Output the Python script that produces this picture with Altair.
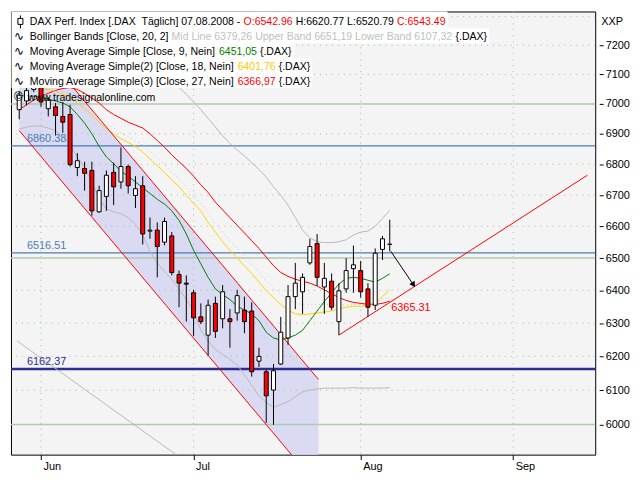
import altair as alt
import pandas as pd

# ---------------- data ----------------
dates = ["2008-05-28", "2008-05-29", "2008-05-30",
         "2008-06-02", "2008-06-03", "2008-06-04", "2008-06-05", "2008-06-06", "2008-06-09", "2008-06-10",
         "2008-06-11", "2008-06-12", "2008-06-13", "2008-06-16", "2008-06-17", "2008-06-18", "2008-06-19",
         "2008-06-20", "2008-06-23", "2008-06-24", "2008-06-25", "2008-06-26", "2008-06-27", "2008-06-30",
         "2008-07-01", "2008-07-02", "2008-07-03", "2008-07-04", "2008-07-07", "2008-07-08", "2008-07-09",
         "2008-07-10", "2008-07-11", "2008-07-14", "2008-07-15", "2008-07-16", "2008-07-17", "2008-07-18",
         "2008-07-21", "2008-07-22", "2008-07-23", "2008-07-24", "2008-07-25", "2008-07-28", "2008-07-29",
         "2008-07-30", "2008-07-31", "2008-08-01", "2008-08-04", "2008-08-05", "2008-08-06", "2008-08-07"]

opens = [6980.6, 7010.0, 7048.8, 7055.3, 6983.8, 6990.3, 6958.0, 6964.4, 6789.3, 6786.1,
         6779.8, 6646.1, 6695.6, 6773.5, 6742.2, 6792.4, 6698.7, 6729.8, 6584.8, 6587.9,
         6550.0, 6569.6, 6449.1, 6422.2, 6392.5, 6319.0, 6263.7, 6360.0, 6313.1, 6313.1,
         6330.7, 6339.5, 6336.6, 6185.8, 6154.3, 6100.4, 6177.2, 6255.0, 6380.7, 6395.5,
         6485.0, 6545.4, 6410.3, 6428.2, 6304.4, 6404.4, 6467.0, 6461.0, 6404.4, 6354.2,
         6527.2, 6542.96]
highs = [7042.3, 7060.0, 7105.0, 7088.0, 7022.7, 7003.2, 7006.5, 6996.8, 6836.6, 6808.1,
         6808.1, 6729.8, 6779.8, 6805.0, 6855.0, 6798.7, 6761.0, 6761.0, 6627.7, 6612.4,
         6627.7, 6581.8, 6461.0, 6446.1, 6401.4, 6360.0, 6371.8, 6380.7, 6416.3, 6342.4,
         6401.4, 6380.7, 6363.0, 6226.0, 6160.1, 6177.2, 6319.0, 6416.3, 6485.0, 6452.1,
         6560.5, 6575.7, 6485.0, 6452.1, 6422.2, 6500.0, 6539.4, 6491.0, 6422.2, 6530.2,
         6569.6, 6620.77]
lows = [6948.3, 6995.0, 7040.0, 6990.3, 6958.0, 6893.8, 6903.4, 6792.4, 6761.0, 6714.2,
        6633.8, 6643.0, 6649.2, 6667.7, 6720.4, 6705.0, 6658.5, 6542.4, 6560.5, 6440.1,
        6540.0, 6446.1, 6348.3, 6304.4, 6260.8, 6297.0, 6203.0, 6255.0, 6284.0, 6226.0,
        6307.3, 6269.5, 6140.1, 6168.7, 6005.0, 5999.5, 6174.4, 6234.7, 6342.4, 6327.8,
        6479.0, 6413.3, 6327.8, 6339.5, 6263.7, 6392.5, 6392.5, 6377.8, 6319.0, 6339.5,
        6494.0, 6520.79]
closes = [7029.2, 7045.0, 7094.7, 7006.5, 7013.0, 6961.2, 6938.7, 6798.7, 6811.3, 6770.4,
          6649.2, 6714.2, 6764.1, 6726.6, 6792.4, 6729.8, 6720.4, 6575.7, 6587.9, 6536.2,
          6615.4, 6455.0, 6422.2, 6419.2, 6316.1, 6304.4, 6354.2, 6275.0, 6395.5, 6304.4,
          6383.7, 6304.4, 6154.3, 6200.1, 6083.6, 6157.3, 6272.4, 6380.7, 6422.2, 6440.1,
          6536.2, 6440.1, 6437.1, 6348.3, 6398.5, 6461.0, 6479.0, 6395.5, 6348.3, 6515.2,
          6560.5, 6543.49]

ma9 = [7029.2, 7026.0, 7026.0, 7022.7, 7016.2, 7009.7, 7003.2, 6990.3, 6964.4, 6935.5,
       6900.2, 6858.8, 6823.9, 6801.8, 6776.7, 6761.0, 6742.2, 6723.5, 6704.9, 6686.3,
       6670.8, 6649.2, 6618.5, 6575.7, 6524.1, 6482.0, 6440.1, 6404.4, 6386.6, 6371.8,
       6351.2, 6339.5, 6327.8, 6307.3, 6272.4, 6255.0, 6249.2, 6255.0, 6263.7, 6278.2,
       6307.3, 6336.6, 6365.9, 6392.5, 6419.2, 6437.1, 6440.1, 6437.1, 6431.1, 6425.2,
       6437.1, 6451.05]
ma18 = [7055.3, 7055.3, 7055.3, 7052.1, 7048.8, 7042.3, 7032.5, 7022.7, 7003.2, 6983.8,
        6964.4, 6938.7, 6916.2, 6900.2, 6884.2, 6871.5, 6858.8, 6839.7, 6817.6, 6795.5,
        6773.5, 6748.5, 6726.6, 6698.7, 6673.9, 6649.2, 6612.4, 6581.8, 6551.4, 6524.1,
        6500.0, 6476.0, 6452.1, 6425.2, 6398.5, 6377.8, 6357.1, 6339.5, 6327.8, 6324.9,
        6327.8, 6330.7, 6333.6, 6336.6, 6342.4, 6348.3, 6351.2, 6351.2, 6354.2, 6363.0,
        6380.7, 6401.76]
ma27 = [6980.6, 6996.8, 7013.0, 7026.0, 7035.8, 7045.5, 7052.1, 7055.3, 7048.8, 7035.8,
        7019.5, 7003.2, 6980.6, 6964.4, 6951.5, 6938.7, 6929.0, 6919.4, 6900.2, 6877.9,
        6855.6, 6830.3, 6808.1, 6786.1, 6761.0, 6732.9, 6708.0, 6677.0, 6652.3, 6627.7,
        6603.2, 6578.8, 6554.4, 6530.2, 6503.0, 6476.0, 6455.0, 6443.1, 6434.1, 6428.2,
        6422.2, 6413.3, 6401.4, 6389.6, 6377.8, 6368.9, 6363.0, 6360.0, 6357.1, 6357.1,
        6360.0, 6366.97]
bb_mid = [7032.5, 7039.0, 7042.3, 7045.5, 7045.5, 7042.3, 7039.0, 7032.5, 7016.2, 7000.0,
          6980.6, 6958.0, 6935.5, 6919.4, 6903.4, 6890.6, 6877.9, 6862.0, 6842.9, 6820.8,
          6798.7, 6773.5, 6751.6, 6723.5, 6698.7, 6673.9, 6643.0, 6609.3, 6581.8, 6554.4,
          6530.2, 6506.0, 6482.0, 6455.0, 6428.2, 6407.3, 6386.6, 6371.8, 6360.0, 6357.1,
          6357.1, 6357.1, 6357.1, 6354.2, 6354.2, 6354.2, 6357.1, 6357.1, 6357.1, 6363.0,
          6371.8, 6379.26]
bb_lower = [6916.2, 6922.6, 6925.8, 6925.8, 6919.4, 6909.8, 6893.8, 6862.0, 6823.9, 6789.3,
            6742.2, 6689.4, 6655.4, 6646.1, 6640.0, 6627.7, 6606.2, 6572.7, 6521.1, 6485.0,
            6458.0, 6434.1, 6404.4, 6371.8, 6336.6, 6278.2, 6246.2, 6220.2, 6205.8, 6191.4,
            6174.4, 6145.7, 6114.5, 6083.6, 6063.7, 6049.7, 6058.1, 6066.6, 6080.8, 6095.0,
            6100.4, 6103.5, 6106.0, 6106.0, 6106.0, 6106.0, 6107.5, 6106.0, 6106.0, 6106.0,
            6106.5, 6107.32]
bb_upper_first = 21
bb_upper = [7078.2, 7055.3, 7032.5, 7006.5, 6980.6, 6951.5, 6922.6, 6893.8, 6868.3, 6846.1,
            6827.1, 6805.0, 6783.0, 6757.9, 6726.6, 6698.7, 6667.7, 6627.7, 6587.9, 6563.5,
            6551.4, 6548.4, 6548.4, 6551.4, 6557.5, 6572.6, 6581.8, 6584.8, 6600.1, 6624.7,
            6651.19]

# drawn objects (bar index, price)
channel_idx = [0, 41.19]
channel_upper = [7276.4, 6131.5]
channel_lower = [6910.8, 5823.4]
trend_idx = [44, 78.2]
trend_val = [6263.7, 6764.2]
arrow_idx = [51.15, 54.2]
arrow_val = [6521.1, 6419.2]
diag_idx = [-0.3, 22.0]
diag_val = [6246.2, 5907.9]
support_vals = [6860.38, 6516.51, 6162.37]
support_text = ["6860.38", "6516.51", "6162.37"]
support_cols = ["#4a7db5", "#4a7db5", "#2e2e90"]
support_w = [1.3, 1.3, 2.5]
trend_label = "6365.31"

month_idx = [3, 24, 47, 68]
month_lab = ["Jun", "Jul", "Aug", "Sep"]
axis_levels = [6000, 6100, 6200, 6300, 6400, 6500, 6600, 6700, 6800, 6900, 7000, 7100, 7200]
grid_dotted = [6100, 6200, 6300, 6400, 6600, 6700, 6800, 6900, 7100, 7200, 7300]
grid_solid = [6000, 6500, 7000]

# ---------------- styling ----------------
FONT = "Liberation Sans"
LFS = 10.6          # legend font size
W, H = 588, 446
RED = "#ff0000"
one = pd.DataFrame({"k": [0]})

ADV = {' ': 278, '\u00a0': 278, '!': 278, '(': 333, ')': 333, ',': 278, '-': 333, '.': 278,
       ':': 278, '[': 278, ']': 278, '{': 334, '}': 334, '\u00a9': 737, '\u00e4': 556}
for d in "0123456789":
    ADV[d] = 556
ADV.update(dict(A=667, B=667, C=722, D=722, E=667, F=611, G=778, H=722, I=278, J=500, K=667,
                L=556, M=833, N=722, O=778, P=667, Q=778, R=722, S=667, T=611, U=722, V=667,
                W=944, X=667, Y=667, Z=611))
ADV.update(dict(a=556, b=556, c=500, d=556, e=556, f=278, g=556, h=556, i=222, j=222, k=500,
                l=222, m=833, n=556, o=556, p=556, q=556, r=333, s=500, t=278, u=556, v=500,
                w=722, x=500, y=500, z=500))


def tw(s, size=LFS):
    return sum(ADV.get(ch, 556) for ch in s) * size / 1000.0


lab_expr = " : ".join(f"datum.value == {v} ? '{l}'" for v, l in zip(month_idx[:-1], month_lab[:-1]))
lab_expr += f" : '{month_lab[-1]}'"

xs = alt.Scale(domain=[-0.45, 78.6], nice=False, zero=False)
ys = alt.Scale(type="log", domain=[5914, 7318], nice=False, zero=False)
xax = alt.Axis(values=month_idx, labelExpr=lab_expr, orient="bottom", title=None, grid=False,
               domain=False, tickSize=5, tickColor="black", labelAlign="left", labelBaseline="top",
               labelPadding=1, labelOffset=2, labelFont=FONT, labelFontSize=11, labelColor="black",
               labelFlush=False, labelOverlap=False)
yax = alt.Axis(values=axis_levels, orient="right", title=None, grid=False, domain=False,
               tickSize=4, tickColor="black", offset=4, labelPadding=2, labelFont=FONT,
               labelFontSize=11, labelColor="black", format="d", labelFlush=False,
               labelOverlap=False)


def X(f):
    return alt.X(f, type="quantitative", scale=xs, axis=xax)


def Y(f):
    return alt.Y(f, type="quantitative", scale=ys, axis=yax)


layers = []

# channel fill
chan = pd.DataFrame({"i": channel_idx, "u": channel_upper, "l": channel_lower})
layers.append(alt.Chart(chan).mark_area(color="#dadaf3", clip=True).encode(
    x=X("i"), y=Y("u"), y2="l"))

# grid
layers.append(alt.Chart(pd.DataFrame({"v": grid_dotted})).mark_rule(
    color="#9fbc9f", strokeDash=[1, 5], strokeWidth=1).encode(y=Y("v")))
layers.append(alt.Chart(pd.DataFrame({"v": grid_solid})).mark_rule(
    color="#b4c8b4", strokeWidth=1.5).encode(y=Y("v")))
layers.append(alt.Chart(pd.DataFrame({"i": month_idx})).mark_rule(
    color="#9fbc9f", strokeDash=[1, 5], strokeWidth=1).encode(x=X("i")))

# support lines
sup = pd.DataFrame({"v": support_vals, "t": support_text, "col": support_cols, "w": support_w})
layers.append(alt.Chart(sup).mark_rule().encode(
    y=Y("v"), color=alt.Color("col:N", scale=None), strokeWidth=alt.StrokeWidth("w:Q", scale=None)))

# gray diagonal line
layers.append(alt.Chart(pd.DataFrame({"i": diag_idx, "v": diag_val})).mark_line(
    color="#b8b8b8", strokeWidth=1, clip=True).encode(x=X("i"), y=Y("v")))

# Bollinger bands
idx_all = list(range(len(dates)))
layers.append(alt.Chart(pd.DataFrame({"i": idx_all, "v": bb_lower})).mark_line(
    color="#b8b8b8", strokeWidth=1).encode(x=X("i"), y=Y("v")))
layers.append(alt.Chart(pd.DataFrame({"i": list(range(bb_upper_first, bb_upper_first + len(bb_upper))),
                                      "v": bb_upper})).mark_line(
    color="#b8b8b8", strokeWidth=1).encode(x=X("i"), y=Y("v")))
layers.append(alt.Chart(pd.DataFrame({"i": idx_all, "v": bb_mid})).mark_line(
    color="#c4c4c4", strokeWidth=1, strokeDash=[1, 3]).encode(x=X("i"), y=Y("v")))

# moving averages
for vals, col in [(ma27, RED), (ma18, "#ffd200"), (ma9, "#008000")]:
    layers.append(alt.Chart(pd.DataFrame({"i": idx_all, "v": vals})).mark_line(
        color=col, strokeWidth=1).encode(x=X("i"), y=Y("v")))

# channel lines
for vals in [channel_upper, channel_lower]:
    layers.append(alt.Chart(pd.DataFrame({"i": channel_idx, "v": vals})).mark_line(
        color=RED, strokeWidth=1, clip=True).encode(x=X("i"), y=Y("v")))

# rising trend line
layers.append(alt.Chart(pd.DataFrame({"i": trend_idx, "v": trend_val})).mark_line(
    color=RED, strokeWidth=1, clip=True).encode(x=X("i"), y=Y("v")))

# arrow
layers.append(alt.Chart(pd.DataFrame({"i": arrow_idx, "v": arrow_val})).mark_line(
    color="black", strokeWidth=1).encode(x=X("i"), y=Y("v")))
layers.append(alt.Chart(pd.DataFrame({"i": [arrow_idx[1]], "v": [arrow_val[1]]})).mark_point(
    shape="triangle", filled=True, size=40, angle=146, color="black", opacity=1).encode(
    x=X("i"), y=Y("v")))

# candles
cdf = pd.DataFrame({"i": idx_all, "o": opens, "h": highs, "l": lows, "c": closes})
cdf["fillc"] = ["#ff0000" if c < o else "#ffffff" for o, c in zip(opens, closes)]
layers.append(alt.Chart(cdf).mark_rule(color="black", strokeWidth=1).encode(
    x=X("i"), y=Y("l"), y2="h"))
layers.append(alt.Chart(cdf).mark_bar(size=4, stroke="black", strokeWidth=1).encode(
    x=X("i"), y=Y("o"), y2="c", fill=alt.Fill("fillc:N", scale=None)))

# level labels
layers.append(alt.Chart(sup).mark_text(align="left", baseline="middle", dy=-7, font=FONT,
                                       fontSize=11).encode(
    x=alt.value(16), y=Y("v"), text="t:N", color=alt.Color("col:N", scale=None)))
layers.append(alt.Chart(pd.DataFrame({"i": [51.2], "v": [6365.31], "t": [trend_label]})).mark_text(
    align="left", baseline="middle", dy=6, font=FONT, fontSize=11, color=RED).encode(
    x=X("i"), y=Y("v"), text="t:N"))

# ---------------- header legend ----------------
legend_rows = [
    (14, [("DAX Perf. Index [.DAX \u00a0T\u00e4glich] 07.08.2008 - ", "#000000"), ("O:6542.96", RED),
          (" H:6620.77 L:6520.79 ", "#000000"), ("C:6543.49", RED)]),
    (29, [("Bollinger Bands [Close, 20, 2] ", "#000000"),
          ("Mid Line 6379,26 Upper Band 6651,19 Lower Band 6107,32", "#c0c0c0"),
          (" {.DAX}", "#000000")]),
    (44, [("Moving Average Simple [Close, 9, Nein] ", "#000000"), ("6451,05", "#008000"),
          (" {.DAX}", "#000000")]),
    (59, [("Moving Average Simple(2) [Close, 18, Nein] ", "#000000"), ("6401,76", "#ffc800"),
          (" {.DAX}", "#000000")]),
    (74, [("Moving Average Simple(3) [Close, 27, Nein] ", "#000000"), ("6366,97", RED),
          (" {.DAX}", "#000000")]),
]

text_layers = []
for r, (base, segs) in enumerate(legend_rows):
    x = 19.0
    for seg, col in segs:
        lead = len(seg) - len(seg.lstrip(" "))
        txt = seg.strip(" ")
        text_layers.append(alt.Chart(one).mark_text(
            text=txt, align="left", baseline="alphabetic", font=FONT, fontSize=LFS, color=col).encode(
            x=alt.value(x + tw(" " * lead)), y=alt.value(base)))
        x += tw(seg)
    top = 0 if r == 0 else base - 12
    layers.append(alt.Chart(one).mark_rect(color="white").encode(
        x=alt.value(0.5), x2=alt.value(x + 2), y=alt.value(top), y2=alt.value(base + 3)))
    if r > 0:
        text_layers.append(alt.Chart(one).mark_text(
            text="\u223f", align="left", baseline="alphabetic", font="DejaVu Sans", fontSize=12,
            color="black").encode(x=alt.value(3), y=alt.value(base)))

layers.extend(text_layers)

# candle icon of row 1
layers.append(alt.Chart(one).mark_rule(color="black").encode(
    x=alt.value(9.5), y=alt.value(4), y2=alt.value(17)))
layers.append(alt.Chart(one).mark_rect(fill="white", stroke="black", strokeWidth=1).encode(
    x=alt.value(7), x2=alt.value(12), y=alt.value(7), y2=alt.value(13)))

# watermark
layers.append(alt.Chart(one).mark_text(text="\u00a9", align="left", baseline="alphabetic", font=FONT,
                                       fontSize=12, color="black").encode(
    x=alt.value(3), y=alt.value(90)))
layers.append(alt.Chart(one).mark_text(text="www.tradesignalonline.com", align="left",
                                       baseline="alphabetic", font=FONT, fontSize=LFS,
                                       color="black").encode(
    x=alt.value(17), y=alt.value(90)))

# axis caption
layers.append(alt.Chart(one).mark_text(text="XXP", align="left", baseline="alphabetic", font=FONT,
                                       fontSize=11, color="black").encode(
    x=alt.value(W + 6), y=alt.value(14)))

chart = alt.layer(*layers).properties(
    width=W, height=H,
    padding={"left": 1, "top": 1, "right": 2, "bottom": 2},
    background="white",
).configure_view(stroke="black", strokeWidth=1, fill="#f4f4f4")

chart.save("out.html", embed_options={"renderer": "svg", "actions": False})
